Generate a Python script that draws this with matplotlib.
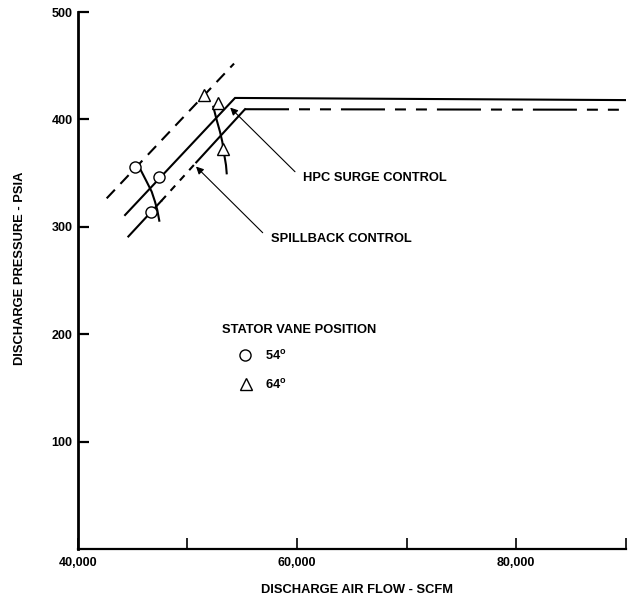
import numpy as np
from matplotlib import pyplot as plt

plt.rcParams['font.family'] = ['Liberation Sans', 'DejaVu Sans']
plt.rcParams['font.weight'] = 'bold'
plt.rcParams['mathtext.fontset'] = 'custom'
plt.rcParams['mathtext.rm'] = 'Liberation Sans:bold'
plt.rcParams['mathtext.bf'] = 'Liberation Sans:bold'
plt.rcParams['lines.scale_dashes'] = False

# surge line (solid) and spillback line, airflow scfm vs psia
surge_x = [44300, 54340, 90000]
surge_y = [311, 420, 418]
spill_x = [44600, 47600, 50800, 55250, 90000]
spill_y = [291, 324, 360, 409.5, 409]
limit_x = [42620, 54250]
limit_y = [326.5, 452]

# test points, stator vane 54 and 64 deg
c54_x = [45200, 47400, 46670]
c54_y = [355.4, 346, 314]
t64_x = [51510, 52760, 53215]
t64_y = [422.7, 415.6, 372.2]

# constant vane lines through the points
v54_x = [45726, 46274, 46731, 47032, 47242, 47425]
v54_y = [352.9, 342.0, 332.7, 323.4, 315.6, 305.7]
v64_x = [52356, 52667, 52968, 53178, 53361, 53516, 53580]
v64_y = [411.8, 399.4, 388.5, 379.2, 366.9, 357.5, 349.8]

xticks = [40000, 50000, 60000, 70000, 80000, 90000]
xticklabels = ['40,000', '', '60,000', '', '80,000', '']
yticks = [100, 200, 300, 400, 500]

fig = plt.figure(figsize=(6.31, 6.01), dpi=100)
ax = fig.add_axes([0.1236, 0.0865, 0.8677, 0.8935])

lw = 1.5
ax.plot(surge_x, surge_y, color='black', lw=lw, solid_joinstyle='miter')
ax.plot(limit_x, limit_y, color='black', lw=lw, dashes=[8.6, 5.8])
ax.plot(spill_x[0:2], spill_y[0:2], color='black', lw=lw)
ax.plot(spill_x[1:3], spill_y[1:3], color='black', lw=lw, dashes=[5, 5])
ax.plot(spill_x[2:4], spill_y[2:4], color='black', lw=lw, solid_capstyle='projecting')
ax.plot(spill_x[3:5], spill_y[3:5], color='black', lw=lw,
        dashes=[31.7, 7.2, 7.9, 7.2, 7.9, 7.2])

ax.plot(v54_x, v54_y, color='black', lw=lw)
ax.plot(v64_x, v64_y, color='black', lw=lw)

ax.plot(c54_x, c54_y, 'o', ms=8, mfc='white', mec='black', mew=1.0, zorder=5)
ax.plot(t64_x, t64_y, '^', ms=9, mfc='white', mec='black', mew=1.0, zorder=5)

# annotations
ax.annotate('', xy=(53900, 411), xytext=(59817, 351.3),
            arrowprops=dict(arrowstyle='-|>', color='black', lw=0.8,
                            mutation_scale=11, shrinkA=0, shrinkB=0))
ax.text(60520, 343.0, 'HPC SURGE CONTROL', fontsize=9.3, ha='left', va='baseline')
ax.annotate('', xy=(50776, 356.1), xytext=(56868, 294.5),
            arrowprops=dict(arrowstyle='-|>', color='black', lw=0.8,
                            mutation_scale=11, shrinkA=0, shrinkB=0))
ax.text(57598, 286.0, 'SPILLBACK CONTROL', fontsize=9.3, ha='left', va='baseline')

# legend drawn by hand
ax.text(53123, 201.2, 'STATOR VANE POSITION', fontsize=9.3, ha='left', va='baseline')
ax.plot([55224], [180.6], 'o', ms=8, mfc='white', mec='black', mew=1.0)
ax.text(57050, 175.8, r'54$^{\mathrm{o}}$', fontsize=9.3, ha='left', va='baseline')
ax.plot([55315], [153.6], '^', ms=9, mfc='white', mec='black', mew=1.0)
ax.text(57050, 149.0, r'64$^{\mathrm{o}}$', fontsize=9.3, ha='left', va='baseline')

ax.set_xlim(40000, 90000)
ax.set_ylim(0, 500)
ax.set_xticks(xticks)
ax.set_xticklabels(xticklabels)
ax.set_yticks(yticks)
ax.spines['top'].set_visible(False)
ax.spines['right'].set_visible(False)
ax.spines['left'].set_linewidth(2.0)
ax.spines['bottom'].set_linewidth(1.6)
ax.tick_params(axis='y', direction='in', length=8, width=1.6, pad=4, labelsize=9)
ax.tick_params(axis='x', direction='in', length=8, width=1.2, pad=6, labelsize=9)

fig.text(357 / 631, 1 - 590 / 601, 'DISCHARGE AIR FLOW - SCFM', fontsize=9.3,
         ha='center', va='center')
fig.text(20 / 631, 1 - 268 / 601, 'DISCHARGE PRESSURE - PSIA', fontsize=9.3,
         ha='center', va='center', rotation=90)

fig.savefig('out.png', dpi=100)
